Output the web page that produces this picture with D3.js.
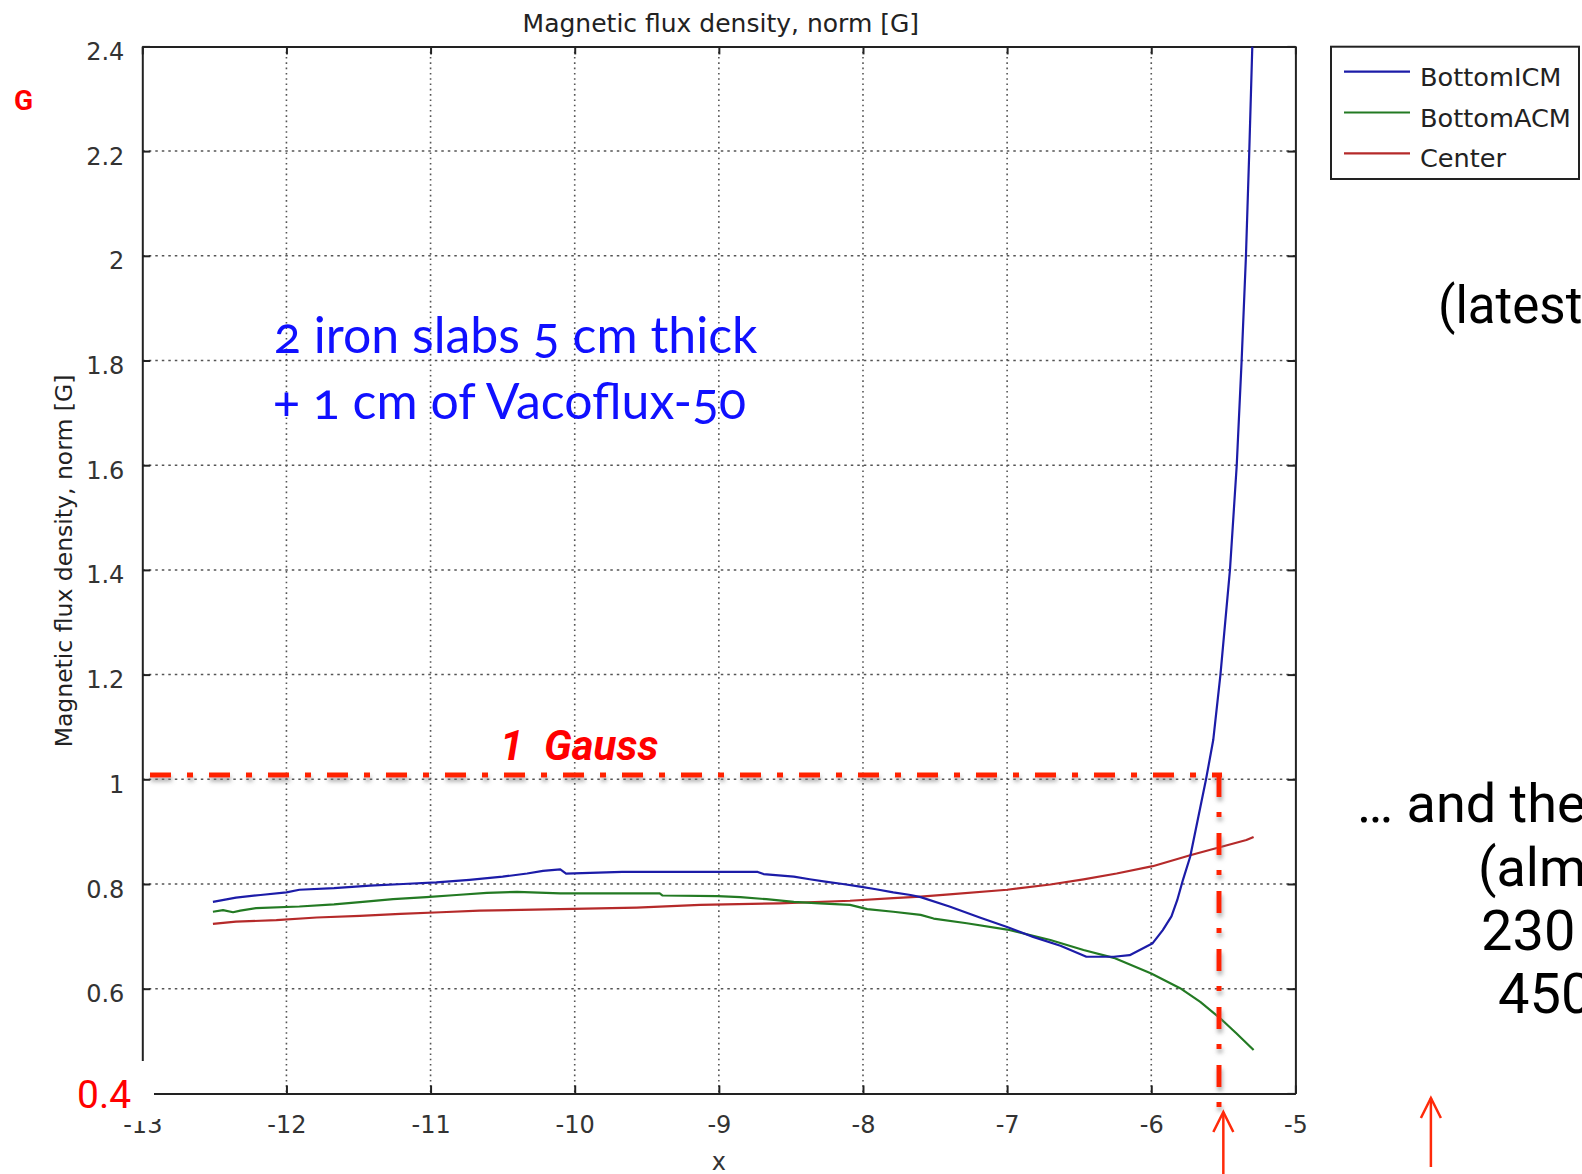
<!DOCTYPE html>
<html>
<head>
<meta charset="utf-8">
<script src="https://cdn.jsdelivr.net/npm/d3@7"></script>
<style>
  body { margin: 0; background: #fff; overflow: hidden; }
  svg { display: block; }
</style>
</head>
<body>
<script>
// Constant
const w = 1582;
const h = 1174;

// Series: BottomICM
const icmX = [-12.51, -12.35, -12.18, -12.0, -11.91, -11.67, -11.42, -11.19, -10.96, -10.73, -10.5, -10.33, -10.22, -10.1, -10.06, -9.67, -8.73, -8.69, -8.48, -8.37, -8.25, -8.14, -8.02, -7.91, -7.79, -7.67, -7.6, -7.4, -7.19, -7.0, -6.82, -6.63, -6.45, -6.26, -6.15, -6.08, -5.99, -5.92, -5.86, -5.82, -5.78, -5.73, -5.62, -5.57, -5.52, -5.454, -5.407, -5.373, -5.343, -5.32, -5.299];
const icmB = [0.766, 0.774, 0.779, 0.784, 0.789, 0.792, 0.797, 0.800, 0.803, 0.808, 0.814, 0.820, 0.825, 0.828, 0.820, 0.823, 0.823, 0.819, 0.814, 0.809, 0.804, 0.800, 0.795, 0.790, 0.784, 0.779, 0.775, 0.757, 0.736, 0.718, 0.699, 0.682, 0.661, 0.661, 0.664, 0.674, 0.687, 0.712, 0.738, 0.769, 0.808, 0.852, 1.0, 1.075, 1.2, 1.4, 1.6, 1.8, 2.0, 2.2, 2.4];

// Series: BottomACM
const acmX = [-12.51, -12.44, -12.37, -12.32, -12.21, -11.91, -11.67, -11.47, -11.26, -11.03, -10.82, -10.61, -10.4, -10.1, -9.41, -9.39, -9.01, -8.85, -8.67, -8.48, -8.3, -8.09, -7.97, -7.79, -7.6, -7.51, -7.28, -7.0, -6.7, -6.47, -6.26, -6.0, -5.8, -5.66, -5.52, -5.41, -5.29];
const acmB = [0.747, 0.750, 0.746, 0.749, 0.754, 0.757, 0.761, 0.766, 0.771, 0.775, 0.779, 0.783, 0.785, 0.782, 0.782, 0.778, 0.777, 0.775, 0.771, 0.766, 0.763, 0.760, 0.752, 0.747, 0.741, 0.734, 0.725, 0.713, 0.693, 0.674, 0.659, 0.629, 0.601, 0.575, 0.543, 0.515, 0.483];

// Series: Center
const cenX = [-12.51, -12.35, -12.07, -11.79, -11.49, -11.21, -10.93, -10.66, -10.1, -9.57, -9.13, -8.58, -8.09, -7.79, -7.6, -7.4, -7.0, -6.7, -6.47, -6.24, -5.99, -5.73, -5.34, -5.29];
const cenB = [0.724, 0.728, 0.731, 0.736, 0.739, 0.743, 0.746, 0.749, 0.752, 0.755, 0.760, 0.763, 0.768, 0.773, 0.776, 0.780, 0.789, 0.799, 0.809, 0.820, 0.834, 0.855, 0.884, 0.890];

// Ticks and names
const xTicks = [-13, -12, -11, -10, -9, -8, -7, -6, -5];
const yTicks = [0.4, 0.6, 0.8, 1, 1.2, 1.4, 1.6, 1.8, 2, 2.2, 2.4];
const seriesNames = ['BottomICM', 'BottomACM', 'Center'];
const seriesColors = ['#1c1ca8', '#237a23', '#b52a2a'];

// Annotation values
const gaussLevel = 1.008;
const gaussX = -5.53;
const arrowX = [-5.50, -4.06];

// Plot box
const plotLeft = 142.3, plotRight = 1295.4, plotTop = 46.4, plotBottom = 1093.4;

// Create the svg canvas
var svg = d3.select('body')
  .append('svg')
  .attr('width', w)
  .attr('height', h);

var defs = svg.append('defs');
defs.append('filter')
  .attr('id', 'shadow')
  .attr('x', '-20%').attr('y', '-20%').attr('width', '140%').attr('height', '140%')
  .append('feDropShadow')
  .attr('dx', 1).attr('dy', 4).attr('stdDeviation', 2)
  .attr('flood-color', '#777').attr('flood-opacity', 0.6);

// Scales
var x = d3.scaleLinear().domain([-13, -5]).range([plotLeft, plotRight]);
var y = d3.scaleLinear().domain([0.4, 2.4]).range([plotBottom, plotTop]);

// Grid
svg.append('g')
  .selectAll('line')
  .data(yTicks.slice(1, -1))
  .enter()
  .append('line')
  .attr('x1', plotLeft).attr('x2', plotRight)
  .attr('y1', d => y(d)).attr('y2', d => y(d))
  .attr('stroke', '#555').attr('stroke-width', 1.5)
  .attr('stroke-dasharray', '2.5,4');

svg.append('g')
  .selectAll('line')
  .data(xTicks.slice(1, -1))
  .enter()
  .append('line')
  .attr('x1', d => x(d)).attr('x2', d => x(d))
  .attr('y1', plotTop).attr('y2', plotBottom)
  .attr('stroke', '#555').attr('stroke-width', 1.6)
  .attr('stroke-dasharray', '1.6,3.7');

// Axes
function styleAxis(g) {
  g.select('.domain').attr('stroke', '#222').attr('stroke-width', 2);
  g.selectAll('.tick line').attr('stroke', '#222').attr('stroke-width', 2);
  g.selectAll('text')
    .attr('fill', '#333')
    .style('font-family', 'DejaVu Sans')
    .style('font-size', '24px');
}

svg.append('g')
  .attr('transform', `translate(${plotLeft},0)`)
  .call(d3.axisLeft(y).tickValues(yTicks).tickFormat(d => String(d)).tickSize(-8).tickSizeOuter(0).tickPadding(18))
  .call(styleAxis)
  .call(g => g.selectAll('text').attr('dy', 13));

svg.append('g')
  .attr('transform', `translate(0,${plotBottom})`)
  .call(d3.axisBottom(x).tickValues(xTicks).tickFormat(d => String(d)).tickSize(-8).tickSizeOuter(0).tickPadding(23))
  .call(styleAxis);

svg.append('g')
  .attr('transform', `translate(0,${plotTop})`)
  .call(d3.axisTop(x).tickValues(xTicks).tickFormat('').tickSize(-8).tickSizeOuter(0))
  .call(styleAxis);

svg.append('g')
  .attr('transform', `translate(${plotRight},0)`)
  .call(d3.axisRight(y).tickValues(yTicks).tickFormat('').tickSize(-8).tickSizeOuter(0))
  .call(styleAxis);

// Titles
svg.append('text')
  .attr('x', (plotLeft + plotRight) / 2 + 2)
  .attr('y', 31.5)
  .attr('text-anchor', 'middle')
  .attr('fill', '#222')
  .style('font-family', 'DejaVu Sans')
  .style('font-size', '25px')
  .text('Magnetic flux density, norm [G]');

svg.append('text')
  .attr('transform', 'translate(72,561) rotate(-90)')
  .attr('text-anchor', 'middle')
  .attr('fill', '#222')
  .style('font-family', 'DejaVu Sans')
  .style('font-size', '23.5px')
  .text('Magnetic flux density, norm [G]');

svg.append('text')
  .attr('x', (plotLeft + plotRight) / 2)
  .attr('y', 1170)
  .attr('text-anchor', 'middle')
  .attr('fill', '#333')
  .style('font-family', 'DejaVu Sans')
  .style('font-size', '24px')
  .text('x');

// Lines
var line = d3.line()
  .x(d => x(d[0]))
  .y(d => y(d[1]));

var series = [
  d3.zip(icmX, icmB),
  d3.zip(acmX, acmB),
  d3.zip(cenX, cenB)
];

svg.append('clipPath').attr('id', 'plot')
  .append('rect')
  .attr('x', plotLeft).attr('y', plotTop)
  .attr('width', plotRight - plotLeft).attr('height', plotBottom - plotTop);

// draw red first, then green, then blue on top
[2, 1, 0].forEach(i => {
  svg.append('path')
    .datum(series[i])
    .attr('clip-path', 'url(#plot)')
    .attr('fill', 'none')
    .attr('stroke', seriesColors[i])
    .attr('stroke-width', 2.2)
    .attr('stroke-linejoin', 'round')
    .attr('d', line);
});

// Legend
var legend = svg.append('g');
legend.append('rect')
  .attr('x', 1331).attr('y', 46.7)
  .attr('width', 248).attr('height', 132.3)
  .attr('fill', '#fff').attr('stroke', '#222').attr('stroke-width', 2);

var items = legend.selectAll('g.item')
  .data(seriesNames)
  .enter()
  .append('g')
  .attr('class', 'item')
  .attr('transform', (d, i) => `translate(0,${71.7 + i * 40.8})`);

items.append('line')
  .attr('x1', 1344).attr('x2', 1410)
  .attr('stroke', (d, i) => seriesColors[i])
  .attr('stroke-width', 2.2);

items.append('text')
  .attr('x', 1420).attr('y', 14)
  .attr('fill', '#222')
  .style('font-family', 'DejaVu Sans')
  .style('font-size', '25.6px')
  .text(d => d);

// Cover of the bottom-left corner
svg.append('rect').attr('x', 55).attr('y', 1061).attr('width', 99).attr('height', 60).attr('fill', '#fff');
svg.append('rect').attr('x', 154).attr('y', 1098).attr('width', 12).attr('height', 21).attr('fill', '#fff');

svg.append('text')
  .attr('x', 77).attr('y', 1108)
  .attr('fill', '#ff0000')
  .style('font-family', 'Roboto')
  .style('font-size', '39px')
  .text('0.4');

svg.append('text')
  .attr('x', 14).attr('y', 110)
  .attr('fill', '#ff0000')
  .style('font-family', 'Roboto')
  .style('font-weight', 'bold')
  .style('font-size', '28px')
  .text('G');

// 1 Gauss dash-dot guide
var guide = svg.append('g').attr('filter', 'url(#shadow)');
guide.append('line')
  .attr('x1', 150).attr('x2', x(gaussX) + 3)
  .attr('y1', y(gaussLevel)).attr('y2', y(gaussLevel))
  .attr('stroke', '#ff2200').attr('stroke-width', 5)
  .attr('stroke-dasharray', '21,16,6,16');
guide.append('line')
  .attr('x1', x(gaussX)).attr('x2', x(gaussX))
  .attr('y1', y(gaussLevel)).attr('y2', 1112)
  .attr('stroke', '#ff2200').attr('stroke-width', 5)
  .attr('stroke-dasharray', '22,15,5,16');

svg.append('text')
  .attr('x', 500).attr('y', 760)
  .attr('fill', '#ff0000')
  .style('font-family', 'Roboto')
  .style('font-weight', 'bold')
  .style('font-style', 'italic')
  .style('font-size', '42px')
  .attr('xml:space', 'preserve')
  .text('1  Gauss');

// Arrows
var arrows = svg.append('g')
  .attr('stroke', '#ff2a0a').attr('stroke-width', 2.5).attr('fill', 'none');
[[arrowX[0], 1112, 1174], [arrowX[1], 1098, 1167]].forEach(a => {
  var ax = x(a[0]);
  arrows.append('line').attr('x1', ax).attr('x2', ax).attr('y1', a[1]).attr('y2', a[2]);
  arrows.append('path').attr('d', `M${ax - 10},${a[1] + 20}L${ax},${a[1]}L${ax + 10},${a[1] + 20}`);
});

// Blue note
var note = svg.append('text')
  .attr('fill', '#1010ff')
  .style('font-family', 'Lato')
  .style('font-size', '50px')
  .style('font-variant-numeric', 'oldstyle-nums');
note.append('tspan').attr('x', 274).attr('y', 353).text('2 iron slabs 5 cm thick');
note.append('tspan').attr('x', 273).attr('y', 419).text('+ 1 cm of Vacoflux-50');

// Right side notes
var side = [
  ['(latest', 1438, 323, 51],
  ['… and the', 1357, 822, 54],
  ['(almo', 1478, 886, 54],
  ['230', 1481, 950, 56],
  ['450', 1498, 1013, 56]
];
svg.append('g')
  .selectAll('text')
  .data(side)
  .enter()
  .append('text')
  .attr('x', d => d[1])
  .attr('y', d => d[2])
  .attr('fill', '#000')
  .style('font-family', 'Roboto')
  .style('font-size', d => d[3] + 'px')
  .text(d => d[0]);
</script>
</body>
</html>
